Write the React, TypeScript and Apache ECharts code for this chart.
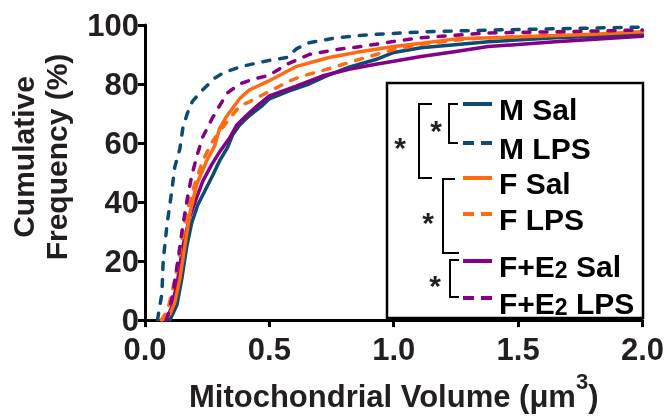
import React, { useEffect, useRef } from "react";
import * as echarts from "echarts";

const xTicks = [0, 0.5, 1.0, 1.5, 2.0];
const yTicks = [0, 20, 40, 60, 80, 100];

const mSal: number[][] = [[0.1,0],[0.128,5],[0.148,14],[0.168,25],[0.188,33],[0.212,39],[0.248,45],[0.272,49],[0.3,54],[0.332,58.5],[0.352,62.7],[0.38,66],[0.42,69.3],[0.472,72.7],[0.5,75],[0.58,77.7],[0.66,80],[0.728,82.7],[0.82,85.7],[0.928,88.3],[1.0,90.7],[1.11,92.3],[1.38,94.3],[1.65,95.7],[2.0,96.7]];
const mLps: number[][] = [[0.05,0],[0.06,5],[0.068,9],[0.073,20],[0.088,32],[0.108,44],[0.12,52],[0.14,58],[0.152,65],[0.17,70],[0.19,74],[0.22,77],[0.25,79.5],[0.28,82],[0.32,84],[0.39,86],[0.5,88],[0.57,89],[0.61,92],[0.66,94],[0.77,95.7],[0.9,96.7],[1.03,97.3],[1.13,97.7],[1.4,98.3],[1.7,98.8],[2.0,99.3]];
const fSal: number[][] = [[0.07,0],[0.1,2],[0.12,6],[0.14,14],[0.16,25],[0.18,36],[0.208,46],[0.248,54],[0.28,59],[0.3,65],[0.328,69],[0.38,75],[0.42,78],[0.49,80.7],[0.61,86],[0.74,89],[0.87,91],[1.0,92.7],[1.13,94],[1.25,95.3],[1.51,96],[1.78,96.8],[2.0,97.7]];
const fLps: number[][] = [[0.065,0],[0.09,3],[0.112,10.6],[0.132,19],[0.152,29],[0.172,38],[0.2,46],[0.232,54],[0.272,60.6],[0.328,67],[0.38,72.5],[0.42,74],[0.5,77.5],[0.58,81],[0.632,82.7],[0.712,84.5],[0.848,88],[0.93,90],[1.0,91.7],[1.13,93.7],[1.3,95.3],[1.6,96.5],[2.0,98]];
const feSal: number[][] = [[0.085,0],[0.11,5],[0.132,14],[0.152,25],[0.18,35],[0.208,41.6],[0.232,47],[0.268,52.7],[0.3,57],[0.34,61.7],[0.368,66],[0.408,69.3],[0.452,72.7],[0.5,76],[0.608,79.3],[0.712,82.7],[0.82,85],[0.928,86.7],[1.0,87.7],[1.11,89.3],[1.25,91],[1.38,92.7],[1.65,94.3],[2.0,96.2]];
const feLps: number[][] = [[0.085,0],[0.1,4],[0.112,9],[0.132,20],[0.152,32],[0.172,42],[0.188,49],[0.21,56],[0.232,62],[0.268,68],[0.3,72.7],[0.332,77],[0.38,80],[0.43,81.5],[0.5,83],[0.57,86.7],[0.66,90],[0.77,91.7],[0.87,92.7],[0.99,94.3],[1.11,95.7],[1.38,97.3],[1.65,97.7],[2.0,98.3]];

const BLUE = "#0d4b73";
const ORANGE = "#ff6a12";
const PURPLE = "#840084";
const FONT = "'Liberation Sans', Arial, sans-serif";
const TXT = "#231f20";

const legendItems = [
  { label: "{n|M Sal}", color: BLUE, dashed: false, y: 104 },
  { label: "{n|M LPS}", color: BLUE, dashed: true, y: 143 },
  { label: "{n|F Sal}", color: ORANGE, dashed: false, y: 178 },
  { label: "{n|F LPS}", color: ORANGE, dashed: true, y: 214 },
  { label: "{n|F+E}{s|2}{n| Sal}", color: PURPLE, dashed: false, y: 261 },
  { label: "{n|F+E}{s|2}{n| LPS}", color: PURPLE, dashed: true, y: 298 },
];

const DASH = [7, 10];

export default function App() {
  const ref = useRef<HTMLDivElement>(null);
  useEffect(() => {
    const chart = echarts.init(ref.current!, undefined, { renderer: "svg" });
    const mk = (name: string, data: number[][], color: string, dashed: boolean, z: number) => ({
      name,
      type: "line",
      data,
      showSymbol: false,
      symbol: "none",
      z,
      lineStyle: { color, width: 3.5, type: dashed ? DASH : "solid", cap: "round", join: "round" },
    });
    const rich = {
      n: { fontSize: 30, fontWeight: "bold", fontFamily: FONT, color: TXT, lineHeight: 34, verticalAlign: "bottom" },
      s: { fontSize: 23, fontWeight: "bold", fontFamily: FONT, color: TXT, lineHeight: 19, verticalAlign: "bottom" },
    };
    const graphics: any[] = [
      {
        type: "rect",
        shape: { x: 387, y: 83, width: 256, height: 235 },
        style: { fill: "#fff", stroke: "#000", lineWidth: 2.5 },
        z: 100,
      },
    ];
    legendItems.forEach((it) => {
      graphics.push({
        type: "line",
        shape: { x1: 463, y1: it.y, x2: 492, y2: it.y },
        style: { stroke: it.color, lineWidth: 4, lineDash: it.dashed ? [11, 7] : null, lineCap: "butt" },
        z: 101,
      });
      graphics.push({
        type: "text",
        x: 499,
        y: it.y + 3,
        style: { text: it.label, rich, verticalAlign: "middle", align: "left" },
        z: 101,
      });
    });
    const brackets = [
      [[432, 104], [419, 104], [419, 178], [432, 178]],
      [[458, 104], [449, 104], [449, 143], [458, 143]],
      [[455, 179], [443, 179], [443, 253], [459, 253]],
      [[459, 260], [450, 260], [450, 297], [459, 297]],
    ];
    brackets.forEach((pts) => {
      graphics.push({ type: "polyline", shape: { points: pts }, style: { stroke: "#000", lineWidth: 2, fill: null }, z: 101 });
    });
    const stars = [[400, 140], [436, 123], [428, 215], [435, 278]];
    stars.forEach(([x, y]) => {
      graphics.push({
        type: "text", x, y: y + 7,
        style: { text: "*", fontSize: 30, fontWeight: "bold", fontFamily: FONT, fill: TXT, align: "center", verticalAlign: "middle" },
        z: 101,
      });
    });
    graphics.push({
      type: "text",
      x: 40,
      y: 157,
      rotation: Math.PI / 2,
      style: {
        text: "Cumulative\nFrequency (%)",
        fontSize: 30, fontWeight: "bold", fontFamily: FONT, fill: TXT,
        align: "center", verticalAlign: "middle", lineHeight: 33,
      },
      z: 101,
    });

    chart.setOption({
      animation: false,
      grid: { left: 145, right: 22, top: 25, bottom: 92, containLabel: false },
      xAxis: {
        type: "value",
        min: 0, max: 2, interval: 0.5,
        splitLine: { show: false },
        axisLine: { lineStyle: { color: "#000", width: 3 } },
        axisTick: { show: true, length: 7, lineStyle: { color: "#000", width: 3 } },
        axisLabel: {
          fontSize: 31, fontWeight: "bold", fontFamily: FONT, color: TXT, margin: 14,
          formatter: (v: number) => (xTicks.indexOf(v) >= 0 ? v.toFixed(1) : ""),
        },
        name: "{n|Mitochondrial Volume (μm}{s|3}{n|)}",
        nameLocation: "middle",
        nameGap: 52,
        nameTextStyle: {
          rich: {
            n: { fontSize: 31, fontWeight: "bold", fontFamily: FONT, color: TXT, lineHeight: 36, verticalAlign: "bottom" },
            s: { fontSize: 22, fontWeight: "bold", fontFamily: FONT, color: TXT, lineHeight: 22, padding: [0, 0, 20, 0], verticalAlign: "bottom" },
          },
        },
      },
      yAxis: {
        type: "value",
        min: 0, max: 100, interval: 20,
        splitLine: { show: false },
        axisLine: { show: true, lineStyle: { color: "#000", width: 3 } },
        axisTick: { show: true, length: 7, lineStyle: { color: "#000", width: 3 } },
        axisLabel: {
          fontSize: 31, fontWeight: "bold", fontFamily: FONT, color: TXT, margin: 6,
          formatter: (v: number) => (yTicks.indexOf(v) >= 0 ? String(v) : ""),
        },
      },
      graphic: graphics,
      series: [
        mk("M Sal", mSal, BLUE, false, 2),
        mk("F+E2 Sal", feSal, PURPLE, false, 3),
        mk("F LPS", fLps, ORANGE, true, 4),
        mk("F Sal", fSal, ORANGE, false, 5),
        mk("F+E2 LPS", feLps, PURPLE, true, 6),
        mk("M LPS", mLps, BLUE, true, 7),
      ],
    });
    return () => chart.dispose();
  }, []);
  return <div ref={ref} style={{ position: "fixed", left: 0, top: 0, width: 667, height: 417 }} />;
}
